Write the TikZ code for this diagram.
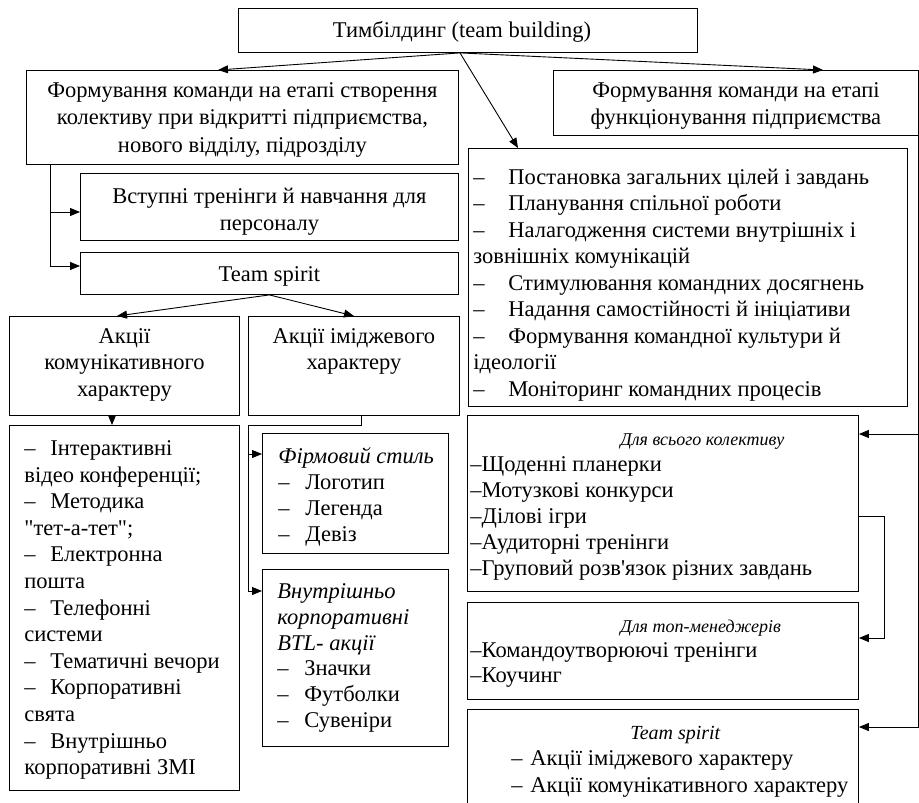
\documentclass[tikz,border=0pt]{standalone}
\usepackage{fontspec}
\setmainfont{Liberation Serif}[Ligatures=TeXOff]
\usetikzlibrary{arrows.meta,calc}

\newcommand\bodysize{22.5}
% box body: width, height, first-baseline offset, line pitch, alignment, lines
\newcommand\panelbody[6]{%
  \parbox[c][#2][t]{#1}{\fontsize{\bodysize}{#4}\selectfont#5%
    \vspace*{\dimexpr#3-0.7\baselineskip\relax}\strut#6}}
\newcommand\dsh[1]{\makebox[#1][l]{–}}
\newcommand\leftpad[1]{\raggedright\leftskip=#1\relax}
% smaller italic heading used in the lower right boxes
\newcommand\smalltitle[2]{{\fontsize{#1}{#1}\selectfont\itshape #2}}

\tikzset{
  panel/.style={draw, line width=0.9pt, inner sep=0pt, anchor=north west},
  link/.style={line width=0.9pt},
  arr/.style={line width=0.9pt, -{Triangle[length=10pt,width=8pt]}},
}

\begin{document}
\begin{tikzpicture}[x=1pt,y=-1pt]
\useasboundingbox (0,0) rectangle (919,803);

% top level
\node[panel] (top) at (238,8)
  {\panelbody{459pt}{44pt}{29pt}{27pt}{\centering}{\hspace*{-12pt}Тимбілдинг (team building)}};

% left branch: forming the team at start-up
\node[panel] (L1) at (26,70)
  {\panelbody{432pt}{94pt}{27pt}{27.5pt}{\centering}{Формування команди на етапі створення\\
   колективу при відкритті підприємства,\\ нового відділу, підрозділу}};
\node[panel] (Vst) at (80,173)
  {\panelbody{378pt}{67pt}{30pt}{27pt}{\centering}{Вступні тренінги й навчання для\\ персоналу}};
\node[panel] (TS) at (80,252)
  {\panelbody{378pt}{42pt}{29pt}{27pt}{\centering}{Team spirit}};
\node[panel] (AK) at (9,316)
  {\panelbody{230pt}{99pt}{27pt}{26.5pt}{\centering}{Акції\\ комунікативного\\ характеру}};
\node[panel] (AI) at (248,316)
  {\panelbody{211pt}{99pt}{27pt}{26.5pt}{\centering}{Акції іміджевого\\ характеру}};
\node[panel] (LL) at (9,425)
  {\panelbody{230pt}{365pt}{30pt}{26.6pt}{\leftpad{15pt}}{%
   \dsh{26pt}Інтерактивні\\
   відео конференції;\\
   \dsh{26pt}Методика\\
   "тет-а-тет";\\
   \dsh{26pt}Електронна\\
   пошта\\
   \dsh{26pt}Телефонні\\
   системи\\
   \dsh{26pt}Тематичні вечори\\
   \dsh{26pt}Корпоративні\\
   свята\\
   \dsh{26pt}Внутрішньо\\
   корпоративні ЗМІ}};
\node[panel] (F) at (262,433)
  {\panelbody{186pt}{120pt}{30pt}{26pt}{\leftpad{16pt}}{%
   {\itshape Фірмовий стиль}\\
   \dsh{27pt}Логотип\\
   \dsh{27pt}Легенда\\
   \dsh{27pt}Девіз}};
\node[panel] (V) at (262,569)
  {\panelbody{186pt}{177pt}{29pt}{25.8pt}{\leftpad{15pt}}{%
   {\itshape Внутрішньо\\ корпоративні\\ BTL- акції}\\
   \dsh{27pt}Значки\\
   \dsh{27pt}Футболки\\
   \dsh{27pt}Сувеніри}};

% right branch: forming the team while operating
\node[panel] (R1) at (553,70)
  {\panelbody{365pt}{65pt}{27pt}{27pt}{\centering}{Формування команди на етапі\\ функціонування підприємства}};
\node[panel] (RL) at (468,148)
  {\panelbody{439pt}{258pt}{36pt}{26.5pt}{\leftpad{5pt}}{%
   \dsh{35pt}Постановка загальних цілей і завдань\\
   \dsh{35pt}Планування спільної роботи\\
   \dsh{35pt}Налагодження системи внутрішніх і\\
   зовнішніх комунікацій\\
   \dsh{35pt}Стимулювання командних досягнень\\
   \dsh{35pt}Надання самостійності й ініціативи\\
   \dsh{35pt}Формування командної культури й\\
   ідеології\\
   \dsh{35pt}Моніторинг командних процесів}};
\node[panel] (DV) at (467,415)
  {\panelbody{391pt}{176pt}{30pt}{26pt}{\leftpad{3pt}}{%
   \hspace*{150pt}\smalltitle{18}{Для всього колективу}\\
   –Щоденні планерки\\
   –Мотузкові конкурси\\
   –Ділові ігри\\
   –Аудиторні тренінги\\
   –Груповий розв'язок різних завдань}};
\node[panel] (DT) at (467,602)
  {\panelbody{391pt}{97pt}{30pt}{25pt}{\leftpad{3pt}}{%
   \hspace*{150pt}\smalltitle{18}{Для топ-менеджерів}\\
   –Командоутворюючі тренінги\\
   –Коучинг}};
\node[panel] (TSR) at (467,709)
  {\panelbody{391pt}{110pt}{30pt}{26.5pt}{\leftpad{3pt}}{%
   \hspace*{160pt}\smalltitle{20}{Team spirit}\\
   \hspace*{41pt}\dsh{19pt}Акції іміджевого характеру\\
   \hspace*{41pt}\dsh{19pt}Акції комунікативного характеру}};

% connectors from the top box
\coordinate (hub) at ([xshift=222pt]top.south west);
\draw[arr] (hub) -- ([xshift=192pt]L1.north west);
\draw[arr] (hub) -- ([xshift=270pt]R1.north west);
\draw[arr] (hub) -- ([xshift=50pt]RL.north west);

% left bus
\coordinate (lbus) at ([xshift=24pt]L1.south west);
\draw[arr] (lbus) |- ([yshift=-39pt]Vst.north west);
\draw[arr] (lbus) |- ([yshift=-14pt]TS.north west);

\draw[arr] (TS.south) -- ([xshift=108pt]AK.north west);
\draw[arr] (TS.south) -- (AI.north);
\draw[arr] ([xshift=103pt]AK.south west) -- ([xshift=103pt]LL.north west);

% image actions bus
\coordinate (aiOut) at ([xshift=113pt]AI.south west);
\coordinate (abus) at (AI.west |- LL.north);
\draw[link] (aiOut) |- (abus);
\draw[arr] (abus) |- ([yshift=-21pt]F.north west);
\draw[arr] (abus) |- ([yshift=-22pt]V.north west);

% right bus
\coordinate (dvIn) at ([yshift=-19pt]DV.north east);
\coordinate (tsIn) at ([yshift=-18pt]TSR.north east);
\draw[arr] (R1.south east) |- (tsIn);
\draw[arr] (dvIn -| R1.south east) -- (dvIn);
\coordinate (dvOut) at ([yshift=-101pt]DV.north east);
\coordinate (dtIn) at ([yshift=-36pt]DT.north east);
\draw[arr] (dvOut) -- ++(26pt,0) |- (dtIn);
\end{tikzpicture}
\end{document}
